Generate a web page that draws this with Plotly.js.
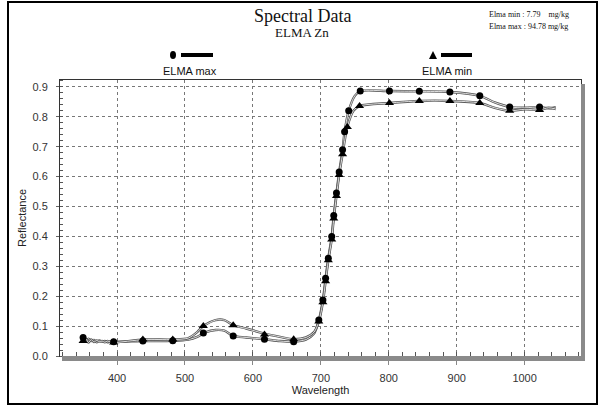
<!DOCTYPE html>
<html>
<head>
<meta charset="utf-8">
<script src="https://cdn.plot.ly/plotly-3.0.1.min.js"></script>
<style>html,body{margin:0;padding:0;background:#fff;}#chart{width:600px;height:407px;}</style>
</head>
<body>
<div id="chart"></div>
<script>
// ELMA max (circle) curve
const maxLineWl  = [350,354,358,362,366,370,374,378,382,386,390,395,440,482,505,518,530,545,558,571,590,617,640,660,678,690,697,703,707,711,716,719,723,727,732,735,741,750,758,801,845,890,934,956,978,1000,1022,1035,1046];
const maxLineVal = [0.062,0.048,0.058,0.050,0.054,0.046,0.052,0.048,0.050,0.046,0.049,0.048,0.050,0.051,0.055,0.064,0.079,0.087,0.085,0.067,0.062,0.056,0.050,0.048,0.055,0.075,0.120,0.187,0.260,0.327,0.400,0.470,0.545,0.615,0.690,0.750,0.820,0.870,0.886,0.886,0.885,0.883,0.870,0.848,0.833,0.830,0.833,0.828,0.832];
const maxMarkWl  = [350,395,438,482,527,571,617,660,697,703,707,711,716,719,723,727,732,735,741,758,801,845,890,934,978,1022];
const maxMarkVal = [0.062,0.048,0.050,0.051,0.077,0.067,0.056,0.048,0.120,0.187,0.260,0.327,0.400,0.470,0.545,0.615,0.690,0.750,0.820,0.886,0.886,0.885,0.883,0.870,0.833,0.833];

// ELMA min (triangle) curve
const minLineWl  = [350,354,358,362,366,370,374,378,382,386,390,395,440,482,505,518,527,545,558,571,590,617,640,660,678,690,697,703,707,711,716,719,723,727,732,739,748,757,801,845,890,934,956,978,1000,1022,1035,1046];
const minLineVal = [0.050,0.058,0.045,0.055,0.047,0.052,0.048,0.050,0.046,0.050,0.047,0.045,0.055,0.055,0.060,0.080,0.100,0.120,0.120,0.103,0.092,0.075,0.064,0.056,0.062,0.080,0.115,0.180,0.250,0.320,0.390,0.460,0.535,0.605,0.675,0.766,0.820,0.836,0.846,0.853,0.853,0.846,0.830,0.820,0.825,0.823,0.830,0.826];
const minMarkWl  = [350,395,438,482,527,571,617,660,697,703,707,711,716,719,723,727,732,739,757,801,845,890,934,978,1022];
const minMarkVal = [0.050,0.045,0.055,0.055,0.100,0.103,0.072,0.056,0.115,0.180,0.250,0.320,0.390,0.460,0.535,0.605,0.675,0.766,0.836,0.846,0.853,0.853,0.846,0.820,0.823];

const yTickVals = [0,0.1,0.2,0.3,0.4,0.5,0.6,0.7,0.8,0.9];
const xTickVals = [400,500,600,700,800,900,1000];

const sans = 'Arial, "Liberation Sans", sans-serif';
const serif = '"Times New Roman", "Liberation Serif", serif';

function outline(x, y) {
  return {x, y, type:'scatter', mode:'lines', hoverinfo:'skip', showlegend:false,
    line:{color:'#555', width:2.4, shape:'spline', smoothing:0.8}};
}
function inner(x, y) {
  return {x, y, type:'scatter', mode:'lines', hoverinfo:'skip', showlegend:false,
    line:{color:'#fff', width:0.8, shape:'spline', smoothing:0.8}};
}

const traces = [
  outline(maxLineWl, maxLineVal), inner(maxLineWl, maxLineVal),
  outline(minLineWl, minLineVal), inner(minLineWl, minLineVal),
  {x:maxMarkWl, y:maxMarkVal, type:'scatter', mode:'markers', name:'ELMA max', showlegend:false,
   marker:{symbol:'circle', size:7, color:'#000'}},
  {x:minMarkWl, y:minMarkVal, type:'scatter', mode:'markers', name:'ELMA min', showlegend:false,
   marker:{symbol:'triangle-up', size:8, color:'#000'}}
];

// paper helpers: plot area is 521 x 276 px starting at (60, 80)
const px = v => (v - 60) / 521;
const py = v => (356 - v) / 276;

const layout = {
  width:600, height:407,
  margin:{l:60, r:19, t:80, b:51},
  paper_bgcolor:'#fff', plot_bgcolor:'#fff',
  showlegend:false,
  font:{family:sans, size:11, color:'#333'},
  xaxis:{
    range:[316,1083], tickvals:xTickVals, ticktext:xTickVals.map(String),
    showgrid:true, gridcolor:'#777', griddash:'dot', gridwidth:1,
    ticks:'outside', ticklen:8, tickcolor:'#888', ticklabelstandoff:4,
    showline:true, linecolor:'#333', linewidth:1, mirror:true, zeroline:false,
    minor:{ticks:'inside', dtick:20, ticklen:4, tickcolor:'#555', showgrid:false},
    tickfont:{family:sans, size:11, color:'#333'},
    title:{text:'Wavelength', font:{family:sans, size:11, color:'#222'}, standoff:2}
  },
  yaxis:{
    range:[0,0.923], tickvals:yTickVals, ticktext:yTickVals.map(v=>v.toFixed(1)),
    showgrid:true, gridcolor:'#777', griddash:'dot', gridwidth:1,
    ticks:'outside', ticklen:3, tickcolor:'#666', ticklabelstandoff:6,
    showline:true, linecolor:'#333', linewidth:1, mirror:true, zeroline:false,
    minor:{ticks:'inside', dtick:0.02, ticklen:3, tickcolor:'#555', showgrid:false},
    tickfont:{family:sans, size:11, color:'#333'},
    title:{text:'Reflectance', font:{family:sans, size:11, color:'#222'}, standoff:3}
  },
  shapes:[
    // outer frame
    {type:'rect', xref:'paper', yref:'paper', x0:px(8), x1:px(597), y0:py(404), y1:py(2),
     line:{color:'#000', width:2}, fillcolor:'rgba(0,0,0,0)', layer:'below'},
    // shadow bars
    {type:'rect', xref:'paper', yref:'paper', x0:px(62), x1:px(585), y0:py(361), y1:py(356),
     line:{width:0}, fillcolor:'#8a8a8a'},
    {type:'rect', xref:'paper', yref:'paper', x0:px(581), x1:px(585), y0:py(361), y1:py(84),
     line:{width:0}, fillcolor:'#8a8a8a'},
    // legend: ELMA max
    {type:'circle', xref:'paper', yref:'paper', x0:px(170), x1:px(176), y0:py(59), y1:py(51),
     line:{width:0}, fillcolor:'#000'},
    {type:'line', xref:'paper', yref:'paper', x0:px(181), x1:px(213), y0:py(55), y1:py(55),
     line:{color:'#000', width:4}},
    // legend: ELMA min
    {type:'path', xref:'paper', yref:'paper',
     path:`M ${px(429)} ${py(59)} L ${px(437)} ${py(59)} L ${px(433)} ${py(51)} Z`,
     line:{width:0}, fillcolor:'#000'},
    {type:'line', xref:'paper', yref:'paper', x0:px(441), x1:px(472), y0:py(55), y1:py(55),
     line:{color:'#000', width:4}}
  ],
  annotations:[
    {text:'Spectral Data', xref:'paper', yref:'paper', x:px(302), y:py(16), showarrow:false,
     xanchor:'center', yanchor:'middle', font:{family:serif, size:18, color:'#111'}},
    {text:'ELMA Zn', xref:'paper', yref:'paper', x:px(302), y:py(33), showarrow:false,
     xanchor:'center', yanchor:'middle', font:{family:serif, size:13, color:'#111'}},
    {text:'Elma min : 7.79&nbsp;&nbsp;&nbsp;&nbsp;mg/kg', xref:'paper', yref:'paper', x:px(487), y:py(14), showarrow:false,
     xanchor:'left', yanchor:'middle', font:{family:serif, size:8, color:'#111'}},
    {text:'Elma max : 94.78 mg/kg', xref:'paper', yref:'paper', x:px(487), y:py(26), showarrow:false,
     xanchor:'left', yanchor:'middle', font:{family:serif, size:8, color:'#111'}},
    {text:'ELMA max', xref:'paper', yref:'paper', x:px(190), y:py(71), showarrow:false,
     xanchor:'center', yanchor:'middle', font:{family:sans, size:11, color:'#111'}},
    {text:'ELMA min', xref:'paper', yref:'paper', x:px(447), y:py(71), showarrow:false,
     xanchor:'center', yanchor:'middle', font:{family:sans, size:11, color:'#111'}}
  ]
};

Plotly.newPlot('chart', traces, layout, {staticPlot:true, displayModeBar:false});
</script>
</body>
</html>
